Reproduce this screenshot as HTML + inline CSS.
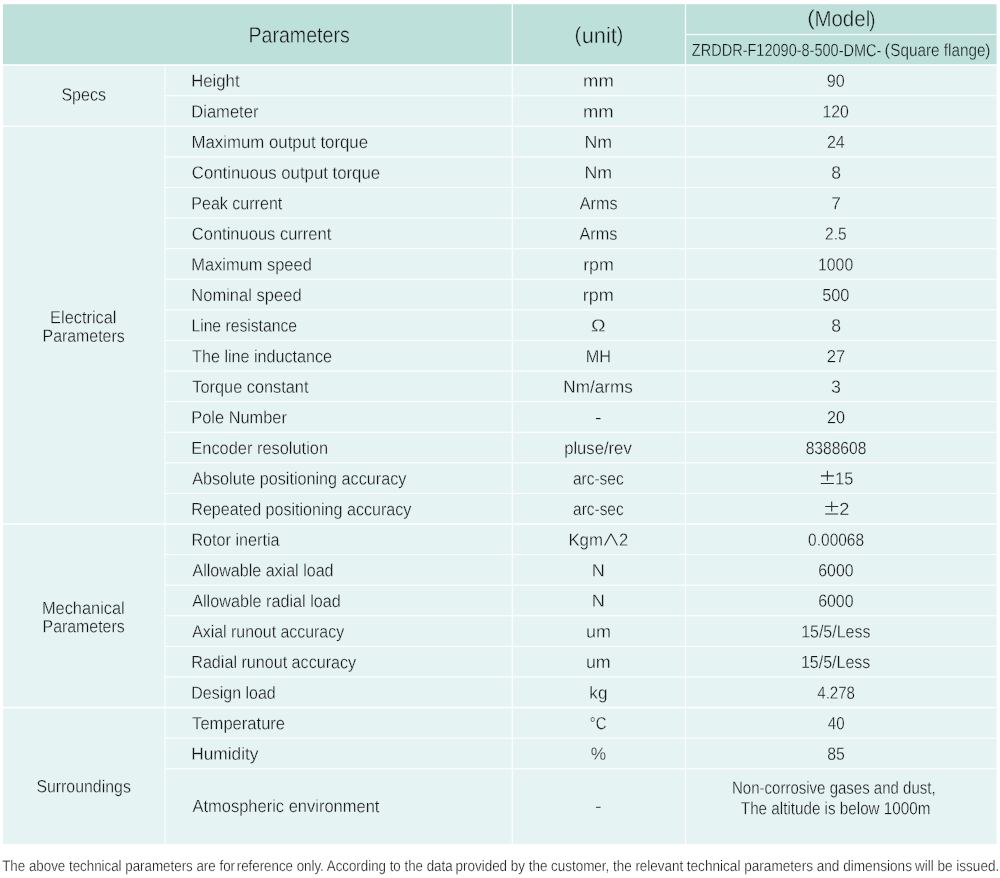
<!DOCTYPE html>
<html lang="en"><head><meta charset="utf-8"><title>Specs</title><style>
html,body{margin:0;padding:0;background:#fff;}html{overflow:hidden;}
body{width:1000px;height:878px;position:relative;font-family:"Liberation Sans",sans-serif;color:#161616;}
svg{position:absolute;left:0;top:0;}
.t{position:absolute;white-space:nowrap;line-height:1;transform-origin:0 0;}.h{position:absolute;left:0;top:0;font-size:1px;color:transparent;}#txt{position:absolute;left:0;top:0;width:1000px;height:878px;will-change:transform;}
</style></head><body>
<svg width="1000" height="878" viewBox="0 0 1000 878"><rect x="3.00" y="4.20" width="993.60" height="60.80" fill="#bde1da"/><rect x="3.00" y="65.00" width="993.60" height="778.90" fill="#e5f3f2"/><rect x="3.00" y="64.20" width="993.60" height="1.60" fill="#fff" fill-opacity="1"/><rect x="685.50" y="33.90" width="311.10" height="1.20" fill="#fff" fill-opacity="1"/><rect x="165.00" y="95.19" width="831.60" height="1.10" fill="#fff" fill-opacity="1"/><rect x="3.00" y="125.63" width="993.60" height="1.40" fill="#fff" fill-opacity="1"/><rect x="165.00" y="156.37" width="831.60" height="1.10" fill="#fff" fill-opacity="1"/><rect x="165.00" y="186.96" width="831.60" height="1.10" fill="#fff" fill-opacity="1"/><rect x="165.00" y="217.55" width="831.60" height="1.10" fill="#fff" fill-opacity="1"/><rect x="165.00" y="248.14" width="831.60" height="1.10" fill="#fff" fill-opacity="1"/><rect x="165.00" y="278.73" width="831.60" height="1.10" fill="#fff" fill-opacity="1"/><rect x="165.00" y="309.32" width="831.60" height="1.10" fill="#fff" fill-opacity="1"/><rect x="165.00" y="339.91" width="831.60" height="1.10" fill="#fff" fill-opacity="1"/><rect x="165.00" y="370.50" width="831.60" height="1.10" fill="#fff" fill-opacity="1"/><rect x="165.00" y="401.09" width="831.60" height="1.10" fill="#fff" fill-opacity="1"/><rect x="165.00" y="431.68" width="831.60" height="1.10" fill="#fff" fill-opacity="1"/><rect x="165.00" y="462.27" width="831.60" height="1.10" fill="#fff" fill-opacity="1"/><rect x="165.00" y="492.86" width="831.60" height="1.10" fill="#fff" fill-opacity="1"/><rect x="3.00" y="523.30" width="993.60" height="1.40" fill="#fff" fill-opacity="1"/><rect x="165.00" y="554.04" width="831.60" height="1.10" fill="#fff" fill-opacity="1"/><rect x="165.00" y="584.63" width="831.60" height="1.10" fill="#fff" fill-opacity="1"/><rect x="165.00" y="615.22" width="831.60" height="1.10" fill="#fff" fill-opacity="1"/><rect x="165.00" y="645.81" width="831.60" height="1.10" fill="#fff" fill-opacity="1"/><rect x="165.00" y="676.40" width="831.60" height="1.10" fill="#fff" fill-opacity="1"/><rect x="3.00" y="706.84" width="993.60" height="1.40" fill="#fff" fill-opacity="1"/><rect x="165.00" y="737.58" width="831.60" height="1.10" fill="#fff" fill-opacity="1"/><rect x="165.00" y="768.17" width="831.60" height="1.10" fill="#fff" fill-opacity="1"/><rect x="164.20" y="65.00" width="1.60" height="778.90" fill="#fff" fill-opacity="0.6"/><rect x="511.67" y="4.20" width="1.25" height="839.70" fill="#fff" fill-opacity="1"/><rect x="684.88" y="4.20" width="1.25" height="839.70" fill="#fff" fill-opacity="1"/><path d="M604.6 545.45 L611.0 533.75 L617.4 545.45 M820.90 483.47 h13 M820.90 475.87 h13 M827.40 480.87 v-10 M825.20 514.06 h13 M825.20 506.46 h13 M831.70 511.46 v-10" fill="none" stroke="#2b2b2b" stroke-width="1.05" stroke-linejoin="bevel"/></svg>
<div id="txt">
<span class="t" id="t0" style="left:191px;top:72px;font-size:17.60px;transform:matrix(0.9499,0.0005,0,1,0.23,0.84);-webkit-text-stroke:0.30px #e5f3f2;">Height</span>
<span class="t" id="t1" style="left:191px;top:103px;font-size:17.60px;transform:matrix(0.9412,0.0005,0,1,0.27,0.43);-webkit-text-stroke:0.30px #e5f3f2;">Diameter</span>
<span class="t" id="t2" style="left:191px;top:134px;font-size:17.60px;transform:matrix(0.9560,0.0005,0,1,0.38,0.02);-webkit-text-stroke:0.30px #e5f3f2;">Maximum output torque</span>
<span class="t" id="t3" style="left:191px;top:164px;font-size:17.60px;transform:matrix(0.9529,0.0005,0,1,0.80,0.61);-webkit-text-stroke:0.30px #e5f3f2;">Continuous output torque</span>
<span class="t" id="t4" style="left:191px;top:195px;font-size:17.60px;transform:matrix(0.9119,0.0005,0,1,0.30,0.20);-webkit-text-stroke:0.30px #e5f3f2;">Peak current</span>
<span class="t" id="t5" style="left:191px;top:225px;font-size:17.60px;transform:matrix(0.9384,0.0005,0,1,0.81,0.79);-webkit-text-stroke:0.30px #e5f3f2;">Continuous current</span>
<span class="t" id="t6" style="left:191px;top:256px;font-size:17.60px;transform:matrix(0.9330,0.0005,0,1,0.34,0.38);-webkit-text-stroke:0.30px #e5f3f2;">Maximum speed</span>
<span class="t" id="t7" style="left:191px;top:286px;font-size:17.60px;transform:matrix(0.9399,0.0005,0,1,0.28,0.97);-webkit-text-stroke:0.30px #e5f3f2;">Nominal speed</span>
<span class="t" id="t8" style="left:191px;top:317px;font-size:17.60px;transform:matrix(0.8919,0.0005,0,1,0.43,0.56);-webkit-text-stroke:0.30px #e5f3f2;">Line resistance</span>
<span class="t" id="t9" style="left:192px;top:348px;font-size:17.60px;transform:matrix(0.9177,0.0005,0,1,0.07,0.15);-webkit-text-stroke:0.30px #e5f3f2;">The line inductance</span>
<span class="t" id="t10" style="left:192px;top:378px;font-size:17.60px;transform:matrix(0.9279,0.0005,0,1,0.29,0.74);-webkit-text-stroke:0.30px #e5f3f2;">Torque constant</span>
<span class="t" id="t11" style="left:191px;top:409px;font-size:17.60px;transform:matrix(0.9298,0.0005,0,1,0.36,0.33);-webkit-text-stroke:0.30px #e5f3f2;">Pole Number</span>
<span class="t" id="t12" style="left:191px;top:439px;font-size:17.60px;transform:matrix(0.9318,0.0005,0,1,0.33,0.92);-webkit-text-stroke:0.30px #e5f3f2;">Encoder resolution</span>
<span class="t" id="t13" style="left:192px;top:470px;font-size:17.60px;transform:matrix(0.9202,0.0005,0,1,0.21,0.51);-webkit-text-stroke:0.30px #e5f3f2;">Absolute positioning accuracy</span>
<span class="t" id="t14" style="left:191px;top:501px;font-size:17.60px;transform:matrix(0.9146,0.0005,0,1,0.29,0.10);-webkit-text-stroke:0.30px #e5f3f2;">Repeated positioning accuracy</span>
<span class="t" id="t15" style="left:191px;top:531px;font-size:17.60px;transform:matrix(0.9189,0.0005,0,1,0.43,0.69);-webkit-text-stroke:0.30px #e5f3f2;">Rotor inertia</span>
<span class="t" id="t16" style="left:192px;top:562px;font-size:17.60px;transform:matrix(0.9130,0.0005,0,1,0.42,0.28);-webkit-text-stroke:0.30px #e5f3f2;">Allowable axial load</span>
<span class="t" id="t17" style="left:192px;top:592px;font-size:17.60px;transform:matrix(0.9212,0.0005,0,1,0.21,0.87);-webkit-text-stroke:0.30px #e5f3f2;">Allowable radial load</span>
<span class="t" id="t18" style="left:192px;top:623px;font-size:17.60px;transform:matrix(0.9031,0.0005,0,1,0.20,0.46);-webkit-text-stroke:0.30px #e5f3f2;">Axial runout accuracy</span>
<span class="t" id="t19" style="left:191px;top:654px;font-size:17.60px;transform:matrix(0.9161,0.0005,0,1,0.27,0.05);-webkit-text-stroke:0.30px #e5f3f2;">Radial runout accuracy</span>
<span class="t" id="t20" style="left:191px;top:684px;font-size:17.60px;transform:matrix(0.9087,0.0005,0,1,0.31,0.64);-webkit-text-stroke:0.30px #e5f3f2;">Design load</span>
<span class="t" id="t21" style="left:192px;top:715px;font-size:17.60px;transform:matrix(0.9414,0.0005,0,1,0.10,0.23);-webkit-text-stroke:0.30px #e5f3f2;">Temperature</span>
<span class="t" id="t22" style="left:191px;top:745px;font-size:17.60px;transform:matrix(0.9824,0.0005,0,1,0.22,0.82);-webkit-text-stroke:0.30px #e5f3f2;">Humidity</span>
<span class="t" id="t23" style="left:583px;top:72px;font-size:17.60px;transform:matrix(1.0488,0.0005,0,1,0.01,0.84);-webkit-text-stroke:0.30px #e5f3f2;">mm</span>
<span class="t" id="t24" style="left:583px;top:103px;font-size:17.60px;transform:matrix(1.0461,0.0005,0,1,0.01,0.43);-webkit-text-stroke:0.30px #e5f3f2;">mm</span>
<span class="t" id="t25" style="left:584px;top:134px;font-size:17.60px;transform:matrix(1.0136,0.0005,0,1,0.44,0.02);-webkit-text-stroke:0.30px #e5f3f2;">Nm</span>
<span class="t" id="t26" style="left:584px;top:164px;font-size:17.60px;transform:matrix(1.0129,0.0005,0,1,0.44,0.61);-webkit-text-stroke:0.30px #e5f3f2;">Nm</span>
<span class="t" id="t27" style="left:579px;top:195px;font-size:17.60px;transform:matrix(0.9177,0.0005,0,1,0.78,0.20);-webkit-text-stroke:0.30px #e5f3f2;">Arms</span>
<span class="t" id="t28" style="left:579px;top:225px;font-size:17.60px;transform:matrix(0.9238,0.0005,0,1,0.48,0.79);-webkit-text-stroke:0.30px #e5f3f2;">Arms</span>
<span class="t" id="t29" style="left:583px;top:256px;font-size:17.60px;transform:matrix(1.0120,0.0005,0,1,0.13,0.38);-webkit-text-stroke:0.30px #e5f3f2;">rpm</span>
<span class="t" id="t30" style="left:582px;top:286px;font-size:17.60px;transform:matrix(1.0260,0.0005,0,1,0.74,0.97);-webkit-text-stroke:0.30px #e5f3f2;">rpm</span>
<span class="t" id="t31" style="left:591px;top:317px;font-size:17.60px;transform:matrix(1.1113,0.0005,0,1,0.04,0.56);-webkit-text-stroke:0.30px #e5f3f2;">Ω</span>
<span class="t" id="t32" style="left:585px;top:348px;font-size:17.60px;transform:matrix(0.9251,0.0005,0,1,0.71,0.15);-webkit-text-stroke:0.30px #e5f3f2;">MH</span>
<span class="t" id="t33" style="left:563px;top:378px;font-size:17.60px;transform:matrix(0.9729,0.0005,0,1,0.28,0.74);-webkit-text-stroke:0.30px #e5f3f2;">Nm/arms</span>
<span class="t" id="t34" style="left:595px;top:409px;font-size:17.60px;transform:matrix(1.1453,0.0005,0,1,0.09,0.33);-webkit-text-stroke:0.30px #e5f3f2;">-</span>
<span class="t" id="t35" style="left:564px;top:439px;font-size:17.60px;transform:matrix(0.9464,0.0005,0,1,0.14,0.92);-webkit-text-stroke:0.30px #e5f3f2;">pluse/rev</span>
<span class="t" id="t36" style="left:572px;top:470px;font-size:17.60px;transform:matrix(0.8785,0.0005,0,1,0.99,0.51);-webkit-text-stroke:0.30px #e5f3f2;">arc-sec</span>
<span class="t" id="t37" style="left:573px;top:501px;font-size:17.60px;transform:matrix(0.8765,0.0005,0,1,0.10,0.10);-webkit-text-stroke:0.30px #e5f3f2;">arc-sec</span>
<span class="t" id="t38" style="left:568px;top:531px;font-size:17.60px;transform:matrix(0.9582,0.0005,0,1,0.38,0.69);-webkit-text-stroke:0.30px #e5f3f2;">Kgm</span>
<span class="h">∧</span>
<span class="t" id="t39" style="left:618px;top:531px;font-size:17.60px;transform:matrix(0.9367,0.0005,0,1,0.93,0.69);-webkit-text-stroke:0.30px #e5f3f2;">2</span>
<span class="t" id="t40" style="left:591px;top:562px;font-size:17.60px;transform:matrix(1.0302,0.0005,0,1,0.86,0.28);-webkit-text-stroke:0.30px #e5f3f2;">N</span>
<span class="t" id="t41" style="left:591px;top:592px;font-size:17.60px;transform:matrix(1.0302,0.0005,0,1,0.86,0.87);-webkit-text-stroke:0.30px #e5f3f2;">N</span>
<span class="t" id="t42" style="left:585px;top:623px;font-size:17.60px;transform:matrix(1.0226,0.0005,0,1,0.90,0.46);-webkit-text-stroke:0.30px #e5f3f2;">um</span>
<span class="t" id="t43" style="left:585px;top:654px;font-size:17.60px;transform:matrix(1.0138,0.0005,0,1,0.92,0.05);-webkit-text-stroke:0.30px #e5f3f2;">um</span>
<span class="t" id="t44" style="left:589px;top:684px;font-size:17.60px;transform:matrix(0.9727,0.0005,0,1,0.34,0.64);-webkit-text-stroke:0.30px #e5f3f2;">kg</span>
<span class="t" id="t45" style="left:589px;top:715px;font-size:17.60px;transform:matrix(0.8432,0.0005,0,1,0.79,0.23);-webkit-text-stroke:0.30px #e5f3f2;">°C</span>
<span class="t" id="t46" style="left:590px;top:745px;font-size:17.60px;transform:matrix(0.9852,0.0005,0,1,0.73,0.82);-webkit-text-stroke:0.30px #e5f3f2;">%</span>
<span class="t" id="t47" style="left:826px;top:72px;font-size:17.60px;transform:matrix(0.9195,0.0005,0,1,0.87,0.84);-webkit-text-stroke:0.30px #e5f3f2;">90</span>
<span class="t" id="t48" style="left:822px;top:103px;font-size:17.60px;transform:matrix(0.9012,0.0005,0,1,0.40,0.43);-webkit-text-stroke:0.30px #e5f3f2;">120</span>
<span class="t" id="t49" style="left:826px;top:134px;font-size:17.60px;transform:matrix(0.9158,0.0005,0,1,0.89,0.02);-webkit-text-stroke:0.30px #e5f3f2;">24</span>
<span class="t" id="t50" style="left:831px;top:164px;font-size:17.60px;transform:matrix(0.9986,0.0005,0,1,0.18,0.61);-webkit-text-stroke:0.30px #e5f3f2;">8</span>
<span class="t" id="t51" style="left:831px;top:195px;font-size:17.60px;transform:matrix(0.9847,0.0005,0,1,0.28,0.20);-webkit-text-stroke:0.30px #e5f3f2;">7</span>
<span class="t" id="t52" style="left:825px;top:225px;font-size:17.60px;transform:matrix(0.8817,0.0005,0,1,0.04,0.79);-webkit-text-stroke:0.30px #e5f3f2;">2.5</span>
<span class="t" id="t53" style="left:818px;top:256px;font-size:17.60px;transform:matrix(0.8964,0.0005,0,1,0.08,0.38);-webkit-text-stroke:0.30px #e5f3f2;">1000</span>
<span class="t" id="t54" style="left:822px;top:286px;font-size:17.60px;transform:matrix(0.9295,0.0005,0,1,0.16,0.97);-webkit-text-stroke:0.30px #e5f3f2;">500</span>
<span class="t" id="t55" style="left:831px;top:317px;font-size:17.60px;transform:matrix(0.9986,0.0005,0,1,0.18,0.56);-webkit-text-stroke:0.30px #e5f3f2;">8</span>
<span class="t" id="t56" style="left:826px;top:348px;font-size:17.60px;transform:matrix(0.9441,0.0005,0,1,0.79,0.15);-webkit-text-stroke:0.30px #e5f3f2;">27</span>
<span class="t" id="t57" style="left:831px;top:378px;font-size:17.60px;transform:matrix(1.0108,0.0005,0,1,0.10,0.74);-webkit-text-stroke:0.30px #e5f3f2;">3</span>
<span class="t" id="t58" style="left:826px;top:409px;font-size:17.60px;transform:matrix(0.9188,0.0005,0,1,0.89,0.33);-webkit-text-stroke:0.30px #e5f3f2;">20</span>
<span class="t" id="t59" style="left:805px;top:439px;font-size:17.60px;transform:matrix(0.8867,0.0005,0,1,0.64,0.92);-webkit-text-stroke:0.30px #e5f3f2;">8388608</span>
<span class="h">±</span>
<span class="t" id="t60" style="left:835px;top:470px;font-size:17.60px;transform:matrix(0.9298,0.0005,0,1,0.10,0.51);-webkit-text-stroke:0.30px #e5f3f2;">15</span>
<span class="h">±</span>
<span class="t" id="t61" style="left:839px;top:501px;font-size:17.60px;transform:matrix(1.0287,0.0005,0,1,0.17,0.10);-webkit-text-stroke:0.30px #e5f3f2;">2</span>
<span class="t" id="t62" style="left:808px;top:531px;font-size:17.60px;transform:matrix(0.8795,0.0005,0,1,0.12,0.69);-webkit-text-stroke:0.30px #e5f3f2;">0.00068</span>
<span class="t" id="t63" style="left:818px;top:562px;font-size:17.60px;transform:matrix(0.9000,0.0005,0,1,0.29,0.28);-webkit-text-stroke:0.30px #e5f3f2;">6000</span>
<span class="t" id="t64" style="left:818px;top:592px;font-size:17.60px;transform:matrix(0.9055,0.0005,0,1,0.14,0.87);-webkit-text-stroke:0.30px #e5f3f2;">6000</span>
<span class="t" id="t65" style="left:801px;top:623px;font-size:17.60px;transform:matrix(0.9068,0.0005,0,1,0.17,0.46);-webkit-text-stroke:0.30px #e5f3f2;">15/5/Less</span>
<span class="t" id="t66" style="left:800px;top:654px;font-size:17.60px;transform:matrix(0.9098,0.0005,0,1,0.93,0.05);-webkit-text-stroke:0.30px #e5f3f2;">15/5/Less</span>
<span class="t" id="t67" style="left:817px;top:684px;font-size:17.60px;transform:matrix(0.8572,0.0005,0,1,0.25,0.64);-webkit-text-stroke:0.30px #e5f3f2;">4.278</span>
<span class="t" id="t68" style="left:827px;top:715px;font-size:17.60px;transform:matrix(0.8595,0.0005,0,1,0.74,0.23);-webkit-text-stroke:0.30px #e5f3f2;">40</span>
<span class="t" id="t69" style="left:827px;top:745px;font-size:17.60px;transform:matrix(0.9015,0.0005,0,1,0.26,0.82);-webkit-text-stroke:0.30px #e5f3f2;">85</span>
<span class="t" id="t70" style="left:192px;top:798px;font-size:17.60px;transform:matrix(0.9373,0.0005,0,1,0.44,0.04);-webkit-text-stroke:0.30px #e5f3f2;">Atmospheric environment</span>
<span class="t" id="t71" style="left:595px;top:798px;font-size:17.60px;transform:matrix(1.1503,0.0005,0,1,0.04,0.04);-webkit-text-stroke:0.30px #e5f3f2;">-</span>
<span class="t" id="t72" style="left:731px;top:779px;font-size:17.60px;transform:matrix(0.8535,0.0005,0,1,0.99,0.74);-webkit-text-stroke:0.30px #e5f3f2;">Non-corrosive gases and dust,</span>
<span class="t" id="t73" style="left:740px;top:800px;font-size:17.60px;transform:matrix(0.8649,0.0005,0,1,0.86,0.14);-webkit-text-stroke:0.30px #e5f3f2;">The altitude is below 1000m</span>
<span class="t" id="t74" style="left:61px;top:86px;font-size:17.60px;transform:matrix(0.9088,0.0005,0,1,0.46,0.44);-webkit-text-stroke:0.30px #e5f3f2;">Specs</span>
<span class="t" id="t75" style="left:50px;top:309px;font-size:17.60px;transform:matrix(0.9290,0.0005,0,1,0.10,0.14);-webkit-text-stroke:0.30px #e5f3f2;">Electrical</span>
<span class="t" id="t76" style="left:42px;top:327px;font-size:17.60px;transform:matrix(0.9031,0.0005,0,1,0.54,0.84);-webkit-text-stroke:0.30px #e5f3f2;">Parameters</span>
<span class="t" id="t77" style="left:41px;top:600px;font-size:17.60px;transform:matrix(0.9311,0.0005,0,1,0.90,0.04);-webkit-text-stroke:0.30px #e5f3f2;">Mechanical</span>
<span class="t" id="t78" style="left:42px;top:618px;font-size:17.60px;transform:matrix(0.9031,0.0005,0,1,0.54,0.24);-webkit-text-stroke:0.30px #e5f3f2;">Parameters</span>
<span class="t" id="t79" style="left:36px;top:778px;font-size:17.60px;transform:matrix(0.9024,0.0005,0,1,0.38,0.34);-webkit-text-stroke:0.30px #e5f3f2;">Surroundings</span>
<span class="t" id="t80" style="left:248px;top:24px;font-size:22.20px;transform:matrix(0.8826,0.0005,0,1,0.51,0.54);-webkit-text-stroke:0.38px #bde1da;">Parameters</span>
<span class="t" id="t81" style="left:574px;top:24px;font-size:21.50px;transform:matrix(0.9624,0.0005,0,1,0.54,0.64);-webkit-text-stroke:0.37px #bde1da;">(</span>
<span class="t" id="t82" style="left:581px;top:25px;font-size:22.20px;transform:matrix(0.9821,0.0005,0,1,0.64,0.04);-webkit-text-stroke:0.38px #bde1da;">unit</span>
<span class="t" id="t83" style="left:616px;top:24px;font-size:21.50px;transform:matrix(0.9602,0.0005,0,1,0.58,0.84);-webkit-text-stroke:0.37px #bde1da;">)</span>
<span class="t" id="t84" style="left:807px;top:8px;font-size:21.50px;transform:matrix(1.0524,0.0005,0,1,0.18,0.04);-webkit-text-stroke:0.37px #bde1da;">(</span>
<span class="t" id="t85" style="left:814px;top:8px;font-size:22.20px;transform:matrix(0.9232,0.0005,0,1,0.41,0.34);-webkit-text-stroke:0.38px #bde1da;">Model</span>
<span class="t" id="t86" style="left:869px;top:9px;font-size:21.50px;transform:matrix(0.8639,0.0005,0,1,0.37,0.74);-webkit-text-stroke:0.37px #bde1da;">)</span>
<span class="t" id="t87" style="left:691px;top:42px;font-size:17.60px;transform:matrix(0.8251,0.0005,0,1,0.84,0.04);-webkit-text-stroke:0.30px #bde1da;">ZRDDR-F12090-8-500-DMC-</span>
<span class="t" id="t88" style="left:884px;top:42px;font-size:16.60px;transform:matrix(1.0029,0.0005,0,1,0.45,0.14);-webkit-text-stroke:0.28px #bde1da;">(</span>
<span class="t" id="t89" style="left:890px;top:42px;font-size:17.60px;transform:matrix(0.8694,0.0005,0,1,0.23,0.04);-webkit-text-stroke:0.30px #bde1da;">Square flange</span>
<span class="t" id="t90" style="left:985px;top:42px;font-size:16.60px;transform:matrix(0.9223,0.0005,0,1,0.32,0.74);-webkit-text-stroke:0.28px #bde1da;">)</span>
<span class="t" id="t91" style="left:2px;top:857px;font-size:15.30px;transform:matrix(0.8720,0.0005,0,1,0.19,0.88);-webkit-text-stroke:0.26px #fff;">The above technical parameters are for</span>
<span class="t" id="t92" style="left:236px;top:857px;font-size:15.30px;transform:matrix(0.8703,0.0005,0,1,0.72,0.88);-webkit-text-stroke:0.26px #fff;">reference only. According to the data</span>
<span class="t" id="t93" style="left:455px;top:857px;font-size:15.30px;transform:matrix(0.8775,0.0005,0,1,0.57,0.88);-webkit-text-stroke:0.26px #fff;">provided by the customer, the relevant</span>
<span class="t" id="t94" style="left:686px;top:857px;font-size:15.30px;transform:matrix(0.8887,0.0005,0,1,0.77,0.88);-webkit-text-stroke:0.26px #fff;">technical parameters and dimensions</span>
<span class="t" id="t95" style="left:914px;top:857px;font-size:15.30px;transform:matrix(0.8845,0.0005,0,1,0.98,0.88);-webkit-text-stroke:0.26px #fff;">will be issued.</span>
</div>
</body></html>
